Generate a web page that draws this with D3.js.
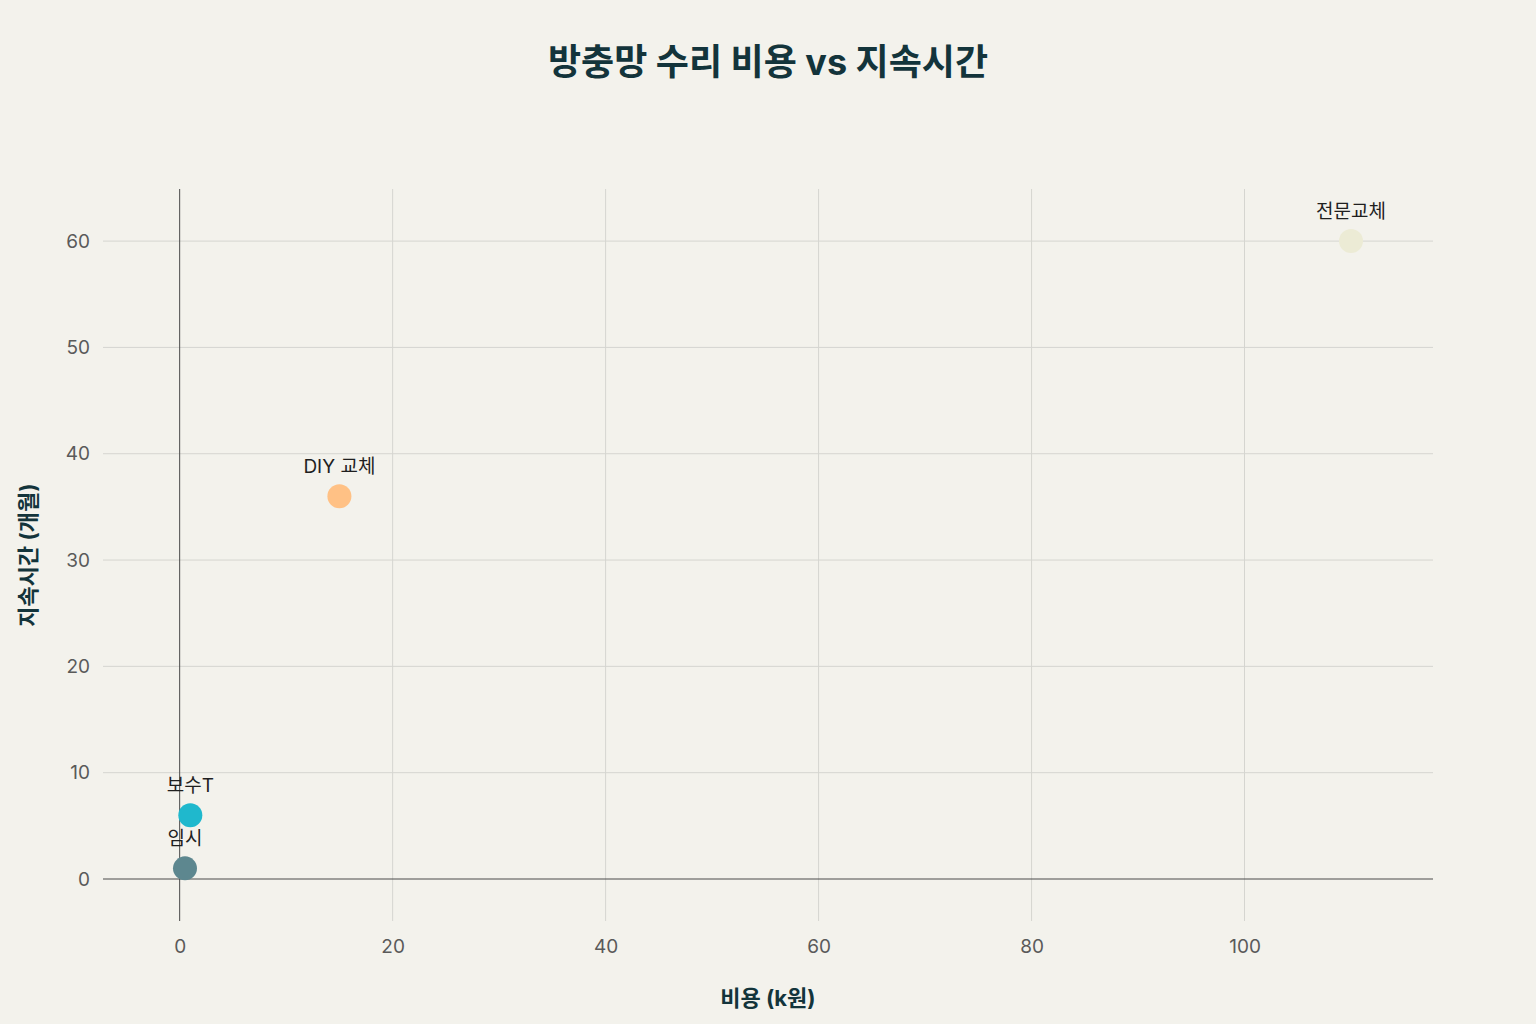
<!DOCTYPE html>
<html>
<head>
<meta charset="utf-8">
<script src="https://cdn.jsdelivr.net/npm/d3@7"></script>
<style>
  body { margin: 0; background: #f3f2ec; }
  svg { display: block; font-family: Inter, "Noto Sans CJK KR", sans-serif; }
</style>
</head>
<body>
<svg id="chart" width="1536" height="1024"></svg>
<script>
'use strict';

// repair options
var names = ["임시", "보수T", "DIY 교체", "전문교체"];
var costs = [0.5, 1, 15, 110];        // k원
var months = [1, 6, 36, 60];          // 개월
var colors = ["#5d878f", "#1fb8cd", "#ffc185", "#ecebd5"];

var xTicks = [0, 20, 40, 60, 80, 100];
var yTicks = [0, 10, 20, 30, 40, 50, 60];

var svg = d3.select("#chart");
var margin = {top: 189, right: 103, bottom: 103, left: 103};
var width = 1536 - margin.left - margin.right;
var height = 1024 - margin.top - margin.bottom;

var x = d3.scaleLinear().domain([-7.2, 117.7]).range([0, width]);
var y = d3.scaleLinear().domain([-3.95, 64.9]).range([height, 0]);

var g = svg.append("g")
    .attr("transform", "translate(" + margin.left + "," + margin.top + ")");

// grid
g.selectAll("line.gx").data(xTicks.filter(function (d) { return d !== 0; }))
    .enter().append("line")
    .attr("class", "gx")
    .attr("x1", function (d) { return x(d); })
    .attr("x2", function (d) { return x(d); })
    .attr("y1", 0).attr("y2", height)
    .style("stroke", "#d5d5d0").style("stroke-width", 1);

g.selectAll("line.gy").data(yTicks.filter(function (d) { return d !== 0; }))
    .enter().append("line")
    .attr("class", "gy")
    .attr("y1", function (d) { return y(d); })
    .attr("y2", function (d) { return y(d); })
    .attr("x1", 0).attr("x2", width)
    .style("stroke", "#d5d5d0").style("stroke-width", 1);

// zero lines
g.append("line")
    .attr("x1", x(0)).attr("x2", x(0)).attr("y1", 0).attr("y2", height)
    .style("stroke", "#4a4a4a").style("stroke-width", 1);
g.append("line")
    .attr("x1", 0).attr("x2", width).attr("y1", y(0)).attr("y2", y(0))
    .style("stroke", "#4a4a4a").style("stroke-width", 1);

// axes
var xAxis = d3.axisBottom(x).tickValues(xTicks).tickSize(0).tickPadding(19);
var yAxis = d3.axisLeft(y).tickValues(yTicks).tickSize(0).tickPadding(13);

var gx = g.append("g").attr("transform", "translate(0," + height + ")").call(xAxis);
var gy = g.append("g").call(yAxis);
[gx, gy].forEach(function (a) {
    a.select(".domain").remove();
    a.selectAll("text")
        .style("font-size", "19px")
        .style("fill", "#5a5a5a")
        .style("font-family", "Inter, sans-serif");
});

// points
var data = names.map(function (n, i) {
    return {name: n, cost: costs[i], months: months[i], color: colors[i]};
});

g.selectAll("circle.pt").data(data)
    .enter().append("circle")
    .attr("class", "pt")
    .attr("cx", function (d) { return x(d.cost); })
    .attr("cy", function (d) { return y(d.months); })
    .attr("r", 12)
    .style("fill", function (d) { return d.color; });

g.selectAll("text.lbl").data(data)
    .enter().append("text")
    .attr("class", "lbl")
    .attr("x", function (d) { return x(d.cost); })
    .attr("y", function (d) { return y(d.months) - 23; })
    .attr("text-anchor", "middle")
    .style("font-size", "19px")
    .style("fill", "#1f1f1f")
    .text(function (d) { return d.name; });

// titles
svg.append("text")
    .attr("x", 768).attr("y", 75)
    .attr("text-anchor", "middle")
    .style("font-size", "36px")
    .style("font-weight", "bold")
    .style("fill", "#13343b")
    .text("방충망 수리 비용 vs 지속시간");

svg.append("text")
    .attr("x", 768).attr("y", 1006)
    .attr("text-anchor", "middle")
    .style("font-size", "22px")
    .style("font-weight", "bold")
    .style("fill", "#13343b")
    .text("비용 (k원)");

svg.append("text")
    .attr("transform", "translate(36,555) rotate(-90)")
    .attr("text-anchor", "middle")
    .style("font-size", "22px")
    .style("font-weight", "bold")
    .style("fill", "#13343b")
    .text("지속시간 (개월)");
</script>
</body>
</html>
